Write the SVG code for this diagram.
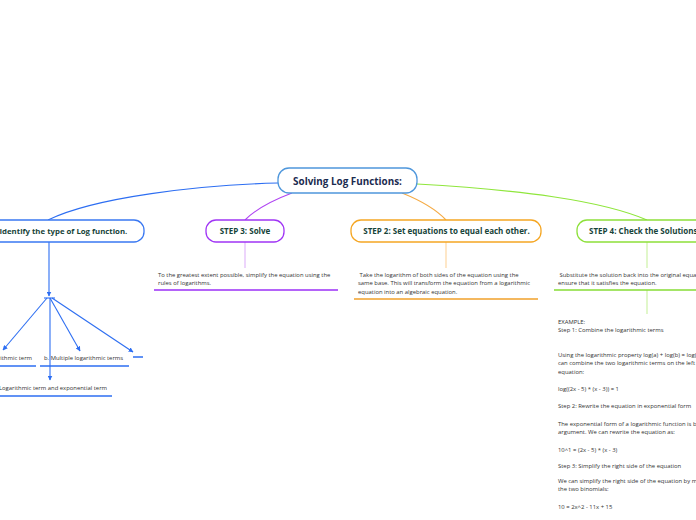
<svg xmlns="http://www.w3.org/2000/svg" width="696" height="520" viewBox="0 0 696 520">
<style>
.node{fill:#ffffff;stroke-width:1.3}
.t{font-family:"Open Sans","Noto Sans",sans-serif;font-weight:bold;fill:#17443a}
.s{font-family:"Open Sans","Noto Sans",sans-serif;font-size:5.9px;fill:#333333}
.c{fill:none;stroke-width:1.1}
.b{stroke:#2d6ef2}
</style>
<defs>
<marker id="ah" viewBox="0 0 10 10" refX="9" refY="5" markerWidth="5" markerHeight="5" orient="auto" markerUnits="userSpaceOnUse">
<path d="M0,0 L10,5 L0,10 z" fill="#2d6ef2"/>
</marker>
</defs>
<rect width="696" height="520" fill="#ffffff"/>
<g id="connectors">
<path class="c" stroke="#2d6ef2" d="M278,183 C200,185 95,197 48,220"/>
<path class="c" stroke="#b046f2" d="M292,193 Q260,205 245,220"/>
<path class="c" stroke="#f5ab45" d="M402,193 Q432,205 446,220"/>
<path class="c" stroke="#8fe63c" d="M417,184 C520,190 600,200 647,220"/>
<line class="c" stroke="#dfb2fa" x1="245" y1="242" x2="245" y2="268"/>
<line class="c" stroke="#fdd49a" x1="446" y1="242" x2="446" y2="268"/>
<line class="c" stroke="#c8f09e" x1="647" y1="242" x2="647" y2="268"/>
<line class="c" stroke="#c8f09e" x1="647" y1="290" x2="647" y2="314"/>
<line class="c b" x1="49" y1="242" x2="49" y2="296" marker-end="url(#ah)"/>
<line class="c b" x1="44" y1="298" x2="55" y2="298" stroke-width="1.5"/>
<line class="c b" x1="47" y1="298" x2="3" y2="350" marker-end="url(#ah)"/>
<line class="c b" x1="50" y1="298" x2="80" y2="351" marker-end="url(#ah)"/>
<line class="c b" x1="50" y1="298" x2="50" y2="380" marker-end="url(#ah)"/>
<line class="c b" x1="52" y1="298" x2="133" y2="352" marker-end="url(#ah)"/>
</g>
<g id="center">
<rect class="node" x="278" y="168" width="139" height="25" rx="11" stroke="#4f97dc"/>
<text class="t" x="347.5" y="184.8" font-size="9.9" text-anchor="middle" style="fill:#1b2b50">Solving Log Functions:</text>
</g>
<g id="step1">
<rect class="node" x="-40" y="220" width="184" height="22" rx="10" stroke="#3a78f2"/>
<text class="t" x="-0.5" y="234" font-size="7.8">Identify the type of Log function.</text>
</g>
<g id="step3">
<rect class="node" x="206" y="220" width="78" height="22" rx="10" stroke="#a035f5"/>
<text class="t" x="245" y="234" font-size="8" text-anchor="middle">STEP 3: Solve</text>
</g>
<g id="step2">
<rect class="node" x="351" y="220" width="190" height="22" rx="10" stroke="#f5a623"/>
<text class="t" x="446.5" y="234" font-size="8" text-anchor="middle">STEP 2: Set equations to equal each other.</text>
</g>
<g id="step4">
<rect class="node" x="577" y="220" width="140" height="22" rx="10" stroke="#8de03a"/>
<text class="t" x="589" y="234" font-size="8">STEP 4: Check the Solutions.</text>
</g>
<g id="step3-text">
<text class="s" x="158" y="276.5">To the greatest extent possible, simplify the equation using the</text>
<text class="s" x="158" y="285">rules of logarithms.</text>
<line x1="154" y1="290" x2="338" y2="290" stroke="#9b2ff7" stroke-width="1.6"/>
</g>
<g id="step2-text">
<text class="s" x="358" y="276.5" xml:space="preserve"> Take the logarithm of both sides of the equation using the</text>
<text class="s" x="358" y="285">same base. This will transform the equation from a logarithmic</text>
<text class="s" x="358" y="294">equation into an algebraic equation.</text>
<line x1="354" y1="299" x2="538" y2="299" stroke="#f0a12a" stroke-width="1.6"/>
</g>
<g id="step4-text">
<text class="s" x="558" y="276.5" xml:space="preserve"> Substitute the solution back into the original equation to</text>
<text class="s" x="558" y="285">ensure that it satisfies the equation.</text>
<line x1="554" y1="290" x2="700" y2="290" stroke="#86dc34" stroke-width="1.6"/>
</g>
<g id="example">
<text class="s" x="558" y="324">EXAMPLE:</text>
<text class="s" x="558" y="332">Step 1: Combine the logarithmic terms</text>
<text class="s" x="558" y="357">Using the logarithmic property log(a) + log(b) = log(ab), we</text>
<text class="s" x="558" y="365">can combine the two logarithmic terms on the left side of the</text>
<text class="s" x="558" y="374">equation:</text>
<text class="s" x="558" y="391">log((2x - 5) * (x - 3)) = 1</text>
<text class="s" x="558" y="407.5">Step 2: Rewrite the equation in exponential form</text>
<text class="s" x="558" y="426">The exponential form of a logarithmic function is base^</text>
<text class="s" x="558" y="434">argument. We can rewrite the equation as:</text>
<text class="s" x="558" y="451.5">10^1 = (2x - 5) * (x - 3)</text>
<text class="s" x="558" y="467.5">Step 3: Simplify the right side of the equation</text>
<text class="s" x="558" y="483">We can simplify the right side of the equation by multiplying</text>
<text class="s" x="558" y="491">the two binomials:</text>
<text class="s" x="558" y="509">10 = 2x^2 - 11x + 15</text>
</g>
<g id="type-a">
<text class="s" x="32" y="360" text-anchor="end">a. Single logarithmic term</text>
<line x1="0" y1="366" x2="36" y2="366" stroke="#2d6ef2" stroke-width="1.5"/>
</g>
<g id="type-b">
<text class="s" x="44" y="360">b. Multiple logarithmic terms</text>
<line x1="40" y1="366" x2="129" y2="366" stroke="#2d6ef2" stroke-width="1.5"/>
</g>
<g id="type-c">
<text class="s" x="107" y="390" text-anchor="end">c. Logarithmic term and exponential term</text>
<line x1="0" y1="396" x2="112" y2="396" stroke="#2d6ef2" stroke-width="1.5"/>
</g>
<g id="type-d">
<line x1="133" y1="357" x2="143" y2="357" stroke="#2d6ef2" stroke-width="1.5"/>
</g>
</svg>
